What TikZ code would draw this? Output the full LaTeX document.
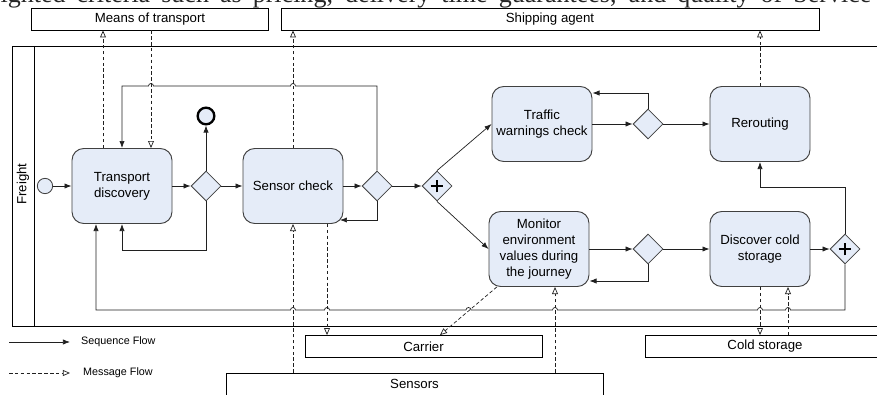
\documentclass[tikz,border=0pt]{standalone}
\usepackage{fontspec}
\setmainfont{Liberation Sans}
\newfontfamily\paperfont{Liberation Serif}
\usetikzlibrary{positioning,arrows.meta,shapes.geometric}
\definecolor{taskfill}{HTML}{E5ECF8}
\definecolor{taskline}{HTML}{404040}
\definecolor{flowline}{HTML}{202020}
\newcommand\lblfont{\fontsize{11.3}{13.6}\selectfont}
\newcommand\legendfont{\fontsize{9.2}{11}\selectfont}

\begin{document}
\begin{tikzpicture}[
    x=0.03cm, y=-0.03cm,
    task/.style={rectangle, rounded corners=10pt, draw=taskline,
      fill=taskfill, line width=0.8pt, minimum width=3cm,
      minimum height=2.25cm, align=center, font=\lblfont, inner sep=2pt},
    gateway/.style={diamond, draw=taskline, fill=taskfill,
      line width=0.7pt, minimum size=0.9cm, inner sep=0pt},
    pargateway/.style={gateway, path picture={
        \draw[line width=2pt, black]
        ([xshift=-0.19cm]path picture bounding box.center) --
        ([xshift=0.19cm]path picture bounding box.center)
        ([yshift=-0.19cm]path picture bounding box.center) --
        ([yshift=0.19cm]path picture bounding box.center);}},
    startevent/.style={circle, draw=taskline, fill=taskfill,
      line width=0.7pt, minimum size=0.46cm, inner sep=0pt},
    endevent/.style={circle, draw=black, fill=taskfill, line width=2pt,
      minimum size=0.5cm, inner sep=0pt},
    partner/.style={rectangle, draw=black, line width=0.7pt, fill=white,
      minimum height=0.66cm, font=\lblfont, inner sep=0pt},
    seqflow/.style={-{Latex[length=6pt,width=4.5pt]}, line width=0.6pt,
      draw=flowline},
    msgflow/.style={-{Triangle[open,length=6pt,width=5pt]},
      line width=0.6pt, draw=flowline, dash pattern=on 3pt off 2pt},
  ]
  \clip (0,0) rectangle (877,394);

  % cut-off line of running text above the figure
  \node[anchor=base west, inner sep=0pt, text=black!85] (paperline) at (-30,3)
  {\paperfont\fontsize{22.2}{26}\selectfont\makebox[27.03cm][s]{weighted
      criteria such as pricing, delivery time guarantees, and quality of Service}};

  % partner pools above
  \node[partner, minimum width=7.11cm] (means) at (150,19) {Means of transport};
  \node[partner, minimum width=16.14cm] (shipping) at (550,19) {Shipping agent};

  % Freight pool with its lane label
  \draw[line width=0.8pt] (890,46) -- (12,46) -- (12,326) -- (890,326);
  \draw[line width=0.8pt] (34,46) -- (34,326);
  \node[rotate=90, font=\lblfont] (lane) at (23,184) {Freight};

  % first part: discovery and sensor check
  \node[startevent] (start) at (45,186) {};
  \node[task] (tdisc) at (122,186) {Transport\\discovery};
  \node[gateway] (gwa) at (206,186) {};
  \node[endevent] (endev) at (206,116) {};
  \node[task] (scheck) at (293,186) {Sensor check};
  \node[gateway] (gwb) at (377,186) {};
  \node[pargateway] (pgwa) at (437,186) {};

  % upper branch
  \node[task] (traffic) at (542,124) {Traffic\\warnings check};
  \node[gateway] (gwc) at (648,124) {};
  \node[task] (rerout) at (760,124) {Rerouting};

  % lower branch
  \node[task] (monitor) at (539,249) {Monitor\\environment\\values during\\the journey};
  \node[gateway] (gwd) at (648,249) {};
  \node[task] (discover) at (760,249) {Discover cold\\storage};
  \node[pargateway] (pgwb) at (845,249) {};

  % partner pools below
  \node[partner, minimum width=7.11cm] (carrier) at (423.5,346.5) {Carrier};
  \node[partner, minimum width=7.2cm] (coldst) at (765,346.5) {Cold storage};
  \node[partner, minimum width=11.31cm] (sensors) at (414.5,384) {Sensors};

  % sequence flows
  \draw[seqflow] (start) -- (tdisc);
  \draw[seqflow] (tdisc) -- (gwa);
  \draw[seqflow] (gwa) -- (scheck);
  \draw[seqflow] (gwa.north) -- (endev.south);
  \draw[seqflow] (scheck) -- (gwb);
  \draw[seqflow] (gwb) -- (pgwa);
  \draw[seqflow] (pgwa.north) -- (traffic.west);
  \draw[seqflow] (pgwa.south) -- (monitor.west);
  \draw[seqflow] (traffic) -- (gwc);
  \draw[seqflow] (gwc) -- (rerout);
  \draw[seqflow] (monitor) -- (gwd);
  \draw[seqflow] (gwd) -- (discover);
  \draw[seqflow] (discover) -- (pgwb);

  % loops back
  \draw[seqflow] (gwa.south) |- (tdisc.south |- 0,250) -- (tdisc.south);
  \draw[seqflow, shorten >=-3pt] (gwb.south) |- (scheck.east |- 0,220);
  \draw[seqflow] (gwc.north) |- (traffic.east |- 0,93);
  \draw[seqflow] (gwd.south) |- (monitor.east |- 0,281);
  \draw[seqflow] (pgwb.north) |- (rerout.south |- 0,187) -- (rerout.south);
  \draw[seqflow] (gwb.north) -- (gwb.north |- 0,86)
    -- (295.5,86) arc[start angle=0, end angle=180, radius=0.075cm]
    -- (153.5,86) arc[start angle=0, end angle=180, radius=0.075cm]
    -- (tdisc.north |- 0,86) -- (tdisc.north);
  \draw[seqflow] (pgwb.south) -- (pgwb.south |- 0,310)
    -- (790.5,310) arc[start angle=0, end angle=180, radius=0.075cm]
    -- (762.5,310) arc[start angle=0, end angle=180, radius=0.075cm]
    -- (557.5,310) arc[start angle=0, end angle=180, radius=0.075cm]
    -- (471,310) arc[start angle=0, end angle=180, radius=0.075cm]
    -- (329.5,310) arc[start angle=0, end angle=180, radius=0.075cm]
    -- (295.5,310) arc[start angle=0, end angle=180, radius=0.075cm]
    -- (96,310) -- (tdisc.south -| 96,0);

  % message flows
  \draw[msgflow] (tdisc.north -| 103,0) -- (means.south -| 103,0);
  \draw[msgflow] (means.south -| 151,0) -- (tdisc.north -| 151,0);
  \draw[msgflow] (scheck.north) -- (shipping.south -| scheck.north);
  \draw[msgflow] (rerout.north) -- (shipping.south -| rerout.north);
  \draw[msgflow] (sensors.north -| scheck.south) -- (scheck.south);
  \draw[msgflow] (scheck.south -| 327,0) -- (carrier.north -| 327,0);
  \draw[msgflow] (monitor.222) -- (carrier.north -| 440,0);
  \draw[msgflow] (sensors.north -| 555,0) -- (monitor.south -| 555,0);
  \draw[msgflow] (discover.south) -- (coldst.north -| discover.south);
  \draw[msgflow] (coldst.north -| 788,0) -- (discover.south -| 788,0);

  % legend
  \coordinate (seqa) at (9,342);
  \coordinate (seqb) at (70,342);
  \draw[seqflow] (seqa) -- (seqb);
  \node[anchor=west, font=\legendfont, inner sep=0pt] (seqlbl) at (81,342) {Sequence Flow};
  \coordinate (msga) at (9,373);
  \coordinate (msgb) at (70,373);
  \draw[msgflow] (msga) -- (msgb);
  \node[anchor=west, font=\legendfont, inner sep=0pt] (msglbl) at (83,373) {Message Flow};
\end{tikzpicture}
\end{document}
